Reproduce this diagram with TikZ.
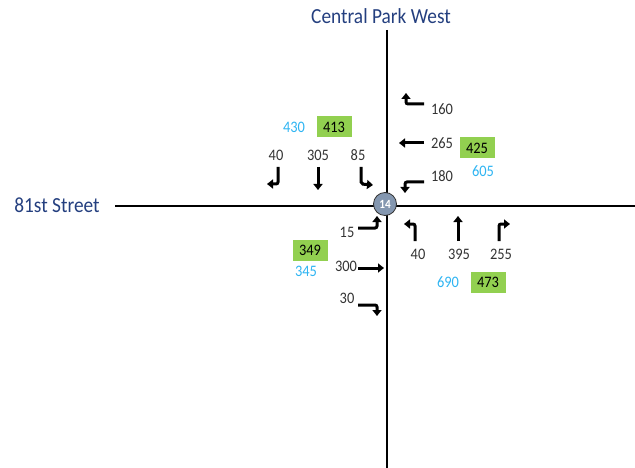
\documentclass[tikz,border=0pt]{standalone}
\usepackage{fontspec}
\setmainfont[FakeStretch=0.9]{Carlito}
\usetikzlibrary{arrows.meta}
\definecolor{grn}{HTML}{92D050}
\definecolor{cyn}{HTML}{2EB4F2}
\definecolor{txt}{HTML}{333333}
\definecolor{street}{HTML}{243F7F}
\definecolor{hub}{HTML}{8497B0}
\tikzset{
  x=1pt,y=-1pt,
  road/.style={line width=1.8pt},
  mv/.style={line width=3pt,-{Triangle[length=6pt,width=9pt]},rounded corners=2pt},
  num/.style={font=\fontsize{16}{16}\selectfont,text=txt,inner sep=0pt},
  vol/.style={font=\fontsize{16}{16}\selectfont,text=cyn,inner sep=0pt},
  tot/.style={font=\fontsize{16}{16}\selectfont,text=black,fill=grn,minimum width=35pt,minimum height=21pt,inner sep=0pt},
  stname/.style={font=\fontsize{21.5}{21.5}\selectfont,text=street,inner sep=0pt}
}
\begin{document}
\begin{tikzpicture}
\useasboundingbox (0,0) rectangle (635,468);
% roads
\coordinate (nT) at (387,30);
\coordinate (nB) at (387,468);
\coordinate (wL) at (115,206);
\coordinate (eR) at (635,206);
\draw[road] (nT) -- (nB);
\draw[road] (wL) -- (eR);
\node[circle,draw=txt,line width=0.8pt,fill=hub,minimum size=23pt,inner sep=0pt,text=white,font=\bfseries\fontsize{12.5}{12.5}\selectfont] (hub) at (385,204) {14};
% street names
\node[stname] (cpw) at (381,16) {Central Park West};
\node[stname] (st81) at (57,205) {81st Street};
% north approach
\node[vol] (n430) at (294,127) {430};
\node[tot] (n413) at (334,127) {413};
\node[num] (nL) at (276,155) {40};
\node[num] (nT2) at (318,155) {305};
\node[num] (nR) at (358,155) {85};
\coordinate (nLa) at (278,167); \coordinate (nLb) at (278,184); \coordinate (nLc) at (267,184);
\draw[mv] (nLa) -- (nLb) -- (nLc);
\coordinate (nTa) at (318,167); \coordinate (nTb) at (318,190);
\draw[mv] (nTa) -- (nTb);
\coordinate (nRa) at (361,167); \coordinate (nRb) at (361,184); \coordinate (nRc) at (373,185);
\draw[mv] (nRa) -- (nRb) -- (nRc);
% east approach
\node[num] (eU) at (442,109) {160};
\node[num] (eT) at (442,143) {265};
\node[num] (eL) at (442,176) {180};
\node[tot] (e425) at (477,148) {425};
\node[vol] (e605) at (483,171) {605};
\coordinate (eUa) at (424,104); \coordinate (eUb) at (406,104); \coordinate (eUc) at (406,93);
\draw[mv] (eUa) -- (eUb) -- (eUc);
\coordinate (eTa) at (424,143); \coordinate (eTb) at (399,143);
\draw[mv] (eTa) -- (eTb);
\coordinate (eLa) at (424,182); \coordinate (eLb) at (405,182); \coordinate (eLc) at (405,193);
\draw[mv] (eLa) -- (eLb) -- (eLc);
% south approach
\node[num] (sL) at (418,254) {40};
\node[num] (sT) at (459,254) {395};
\node[num] (sR) at (501,254) {255};
\node[vol] (s690) at (448,282) {690};
\node[tot] (s473) at (488,282) {473};
\coordinate (sLa) at (415,241); \coordinate (sLb) at (415,224); \coordinate (sLc) at (404,224);
\draw[mv] (sLa) -- (sLb) -- (sLc);
\coordinate (sTa) at (458,241); \coordinate (sTb) at (458,216);
\draw[mv] (sTa) -- (sTb);
\coordinate (sRa) at (499,241); \coordinate (sRb) at (499,224); \coordinate (sRc) at (510,224);
\draw[mv] (sRa) -- (sRb) -- (sRc);
% west approach
\node[num] (wL15) at (347,232) {15};
\node[num] (wT) at (346,266) {300};
\node[num] (wR) at (347,298) {30};
\node[tot] (w349) at (310,250) {349};
\node[vol] (w345) at (306,271) {345};
\coordinate (wLa) at (358,228); \coordinate (wLb) at (377,228); \coordinate (wLc) at (377,216);
\draw[mv] (wLa) -- (wLb) -- (wLc);
\coordinate (wTa) at (358,268); \coordinate (wTb) at (384,268);
\draw[mv] (wTa) -- (wTb);
\coordinate (wRa) at (358,305); \coordinate (wRb) at (377,305); \coordinate (wRc) at (377,316);
\draw[mv] (wRa) -- (wRb) -- (wRc);
\end{tikzpicture}
\end{document}
